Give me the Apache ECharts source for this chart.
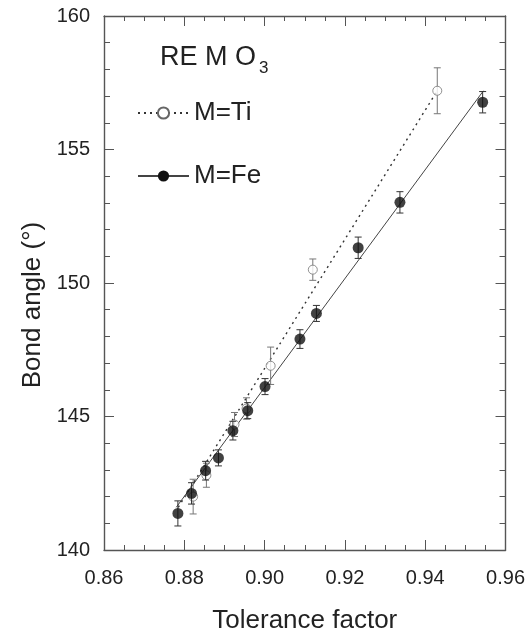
<!DOCTYPE html>
<html>
<head>
<meta charset="utf-8">
<script src="https://cdn.jsdelivr.net/npm/echarts@6/dist/echarts.min.js"></script>
<style>html,body{margin:0;padding:0;background:#fff;}#c{width:528px;height:639px;}</style>
</head>
<body>
<div id="c"></div>
<script>
// ---- data ----
const xTicks = [0.86, 0.88, 0.90, 0.92, 0.94, 0.96];
const yTicks = [140, 145, 150, 155, 160];
const tiX   = [0.8822, 0.8855, 0.8925, 0.8955, 0.9015, 0.9120, 0.9430];
const tiY   = [142.0, 142.8, 144.7, 145.3, 146.9, 150.5, 157.2];
const tiErr = [0.65, 0.45, 0.45, 0.40, 0.70, 0.40, 0.86];
const feX   = [0.8784, 0.8818, 0.8853, 0.8885, 0.8921, 0.8958, 0.9001, 0.9088, 0.9129, 0.9233, 0.9337, 0.9543];
const feY   = [141.37, 142.12, 142.97, 143.45, 144.47, 145.22, 146.12, 147.90, 148.86, 151.32, 153.02, 156.77];
const feErr = [0.47, 0.40, 0.35, 0.30, 0.35, 0.30, 0.30, 0.35, 0.30, 0.40, 0.40, 0.40];
const tiFitX = [0.8785, 0.9430];
const tiFitY = [141.6, 157.2];
const feFitX = [0.8780, 0.9545];
const feFitY = [141.6, 157.2];

const zip = (a, b) => a.map((v, i) => [v, b[i]]);
const errData = (xs, ys, es) => xs.map((x, i) => [x, ys[i] - es[i], ys[i] + es[i]]);

function errRender(color) {
  return function (params, api) {
    const x = api.value(0);
    const lo = api.coord([x, api.value(1)]);
    const hi = api.coord([x, api.value(2)]);
    const cw = 3.5;
    const st = { stroke: color, lineWidth: 1 };
    return {
      type: 'group',
      children: [
        { type: 'line', shape: { x1: lo[0], y1: lo[1], x2: hi[0], y2: hi[1] }, style: st },
        { type: 'line', shape: { x1: lo[0] - cw, y1: lo[1], x2: lo[0] + cw, y2: lo[1] }, style: st },
        { type: 'line', shape: { x1: hi[0] - cw, y1: hi[1], x2: hi[0] + cw, y2: hi[1] }, style: st }
      ]
    };
  };
}

const FONT = 'Liberation Sans, Arial, sans-serif';
const AX = '#555';
const TXT = '#222';

const axisLine = { show: true, lineStyle: { color: AX, width: 1.4 } };
const axisTick = { show: true, inside: true, length: 10, lineStyle: { color: AX } };

const chart = echarts.init(document.getElementById('c'), null, { renderer: 'canvas' });
chart.setOption({
  animation: false,
  backgroundColor: '#fff',
  grid: { left: 104, right: 21, top: 16, bottom: 89, containLabel: false },
  graphic: [
    { type: 'text', left: 160, top: 44, style: { text: 'RE M O', font: '27px ' + FONT, fill: TXT } },
    { type: 'text', left: 259, top: 60, style: { text: '3', font: '17px ' + FONT, fill: TXT } }
  ],
  legend: {
    orient: 'vertical', left: 137, top: 100, padding: 0,
    itemWidth: 51, itemHeight: 14, itemGap: 37,
    data: ['M=Ti', 'M=Fe'],
    textStyle: { fontSize: 26, fontFamily: FONT, color: TXT }
  },
  xAxis: [
    {
      type: 'value', min: xTicks[0], max: xTicks[xTicks.length - 1], interval: 0.02,
      position: 'bottom', axisLine, axisTick, splitLine: { show: false },
      minorTick: { show: true, splitNumber: 4, length: 5, lineStyle: { color: AX } },
      axisLabel: { margin: 18, fontSize: 20, fontFamily: FONT, color: TXT, formatter: v => v.toFixed(2) },
      name: 'Tolerance factor', nameLocation: 'middle', nameGap: 58,
      nameTextStyle: { fontSize: 26, fontFamily: FONT, color: TXT }
    },
    {
      type: 'value', min: xTicks[0], max: xTicks[xTicks.length - 1], interval: 0.02,
      position: 'top', axisLine, axisTick, splitLine: { show: false },
      minorTick: { show: true, splitNumber: 4, length: 5, lineStyle: { color: AX } },
      axisLabel: { show: false }
    }
  ],
  yAxis: [
    {
      type: 'value', min: yTicks[0], max: yTicks[yTicks.length - 1], interval: 5,
      position: 'left', axisLine, axisTick, splitLine: { show: false },
      minorTick: { show: true, splitNumber: 5, length: 6, lineStyle: { color: AX } },
      axisLabel: { margin: 14, fontSize: 20, fontFamily: FONT, color: TXT },
      name: 'Bond angle (°)', nameLocation: 'middle', nameGap: 56,
      nameTextStyle: { fontSize: 26, fontFamily: FONT, color: TXT, padding: [0, 44, 0, 0] }
    },
    {
      type: 'value', min: yTicks[0], max: yTicks[yTicks.length - 1], interval: 5,
      position: 'right', axisLine, axisTick, splitLine: { show: false },
      minorTick: { show: true, splitNumber: 5, length: 6, lineStyle: { color: AX } },
      axisLabel: { show: false }
    }
  ],
  series: [
    {
      name: 'M=Ti', type: 'line', data: zip(tiFitX, tiFitY),
      showSymbol: false, symbol: 'circle',
      lineStyle: { color: '#333', width: 1.4, type: [2, 4] },
      itemStyle: { color: '#fff', borderColor: '#666', borderWidth: 1 },
      z: 2, silent: true
    },
    {
      name: 'M=Fe', type: 'line', data: zip(feFitX, feFitY),
      showSymbol: false, symbol: 'circle',
      lineStyle: { color: '#444', width: 1, type: 'solid' },
      itemStyle: { color: '#111' },
      z: 2, silent: true
    },
    {
      name: 'tiErr', type: 'custom', renderItem: errRender('#777'),
      data: errData(tiX, tiY, tiErr), encode: { x: 0, y: [1, 2] }, z: 3, silent: true
    },
    {
      name: 'tiPts', type: 'scatter', data: zip(tiX, tiY), symbol: 'circle', symbolSize: 9,
      itemStyle: { color: '#fff', borderColor: '#777', borderWidth: 1 }, z: 4, silent: true
    },
    {
      name: 'feErr', type: 'custom', renderItem: errRender('#333'),
      data: errData(feX, feY, feErr), encode: { x: 0, y: [1, 2] }, z: 5, silent: true
    },
    {
      name: 'fePts', type: 'scatter', data: zip(feX, feY), symbol: 'circle', symbolSize: 11,
      itemStyle: { color: '#111' }, z: 6, silent: true
    }
  ]
});
</script>
</body>
</html>
